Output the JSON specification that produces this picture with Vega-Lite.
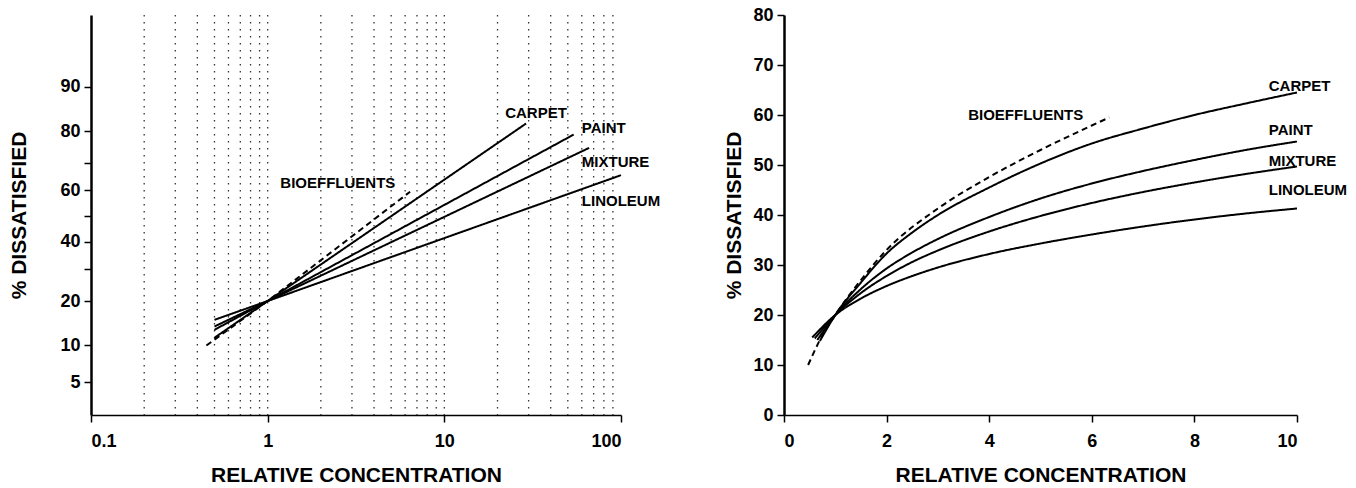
{
  "$schema": "https://vega.github.io/schema/vega-lite/v6.json",
  "background": "white",
  "padding": {"left": 8, "top": 6, "right": 0, "bottom": 0},
  "config": {
    "view": {"stroke": null},
    "font": "Liberation Sans",
    "axis": {
      "domainColor": "black", "tickColor": "black", "labelColor": "black", "titleColor": "black",
      "labelFont": "Liberation Sans", "labelFontWeight": "bold", "labelFontSize": 18,
      "titleFont": "Liberation Sans", "titleFontSize": 21, "titleFontWeight": "bold",
      "grid": false, "tickWidth": 1.5, "tickSize": 7
    },
    "axisX": {"domainWidth": 1.5, "labelPadding": 10, "titlePadding": 14},
    "axisY": {"domainWidth": 2.5, "labelPadding": 4}
  },
  "datasets": {
    "grid": [
      {"conc": 0.2}, {"conc": 0.3}, {"conc": 0.4}, {"conc": 0.5}, {"conc": 0.6}, {"conc": 0.7}, {"conc": 0.8}, {"conc": 0.9}, {"conc": 1},
      {"conc": 2}, {"conc": 3}, {"conc": 4}, {"conc": 5}, {"conc": 6}, {"conc": 7}, {"conc": 8}, {"conc": 9}, {"conc": 10},
      {"conc": 20}, {"conc": 30}, {"conc": 40}, {"conc": 50}, {"conc": 60}, {"conc": 70}, {"conc": 80}, {"conc": 90}
    ],
    "leftLines": [
      {"series": "CARPET", "conc": 0.5, "pct": 11.4}, {"series": "CARPET", "conc": 1, "pct": 20}, {"series": "CARPET", "conc": 29, "pct": 82},
      {"series": "PAINT", "conc": 0.5, "pct": 13}, {"series": "PAINT", "conc": 1, "pct": 20}, {"series": "PAINT", "conc": 54, "pct": 79},
      {"series": "MIXTURE", "conc": 0.5, "pct": 13.7}, {"series": "MIXTURE", "conc": 1, "pct": 20}, {"series": "MIXTURE", "conc": 66, "pct": 75},
      {"series": "LINOLEUM", "conc": 0.5, "pct": 15.2}, {"series": "LINOLEUM", "conc": 1, "pct": 20}, {"series": "LINOLEUM", "conc": 100, "pct": 65.7},
      {"series": "BIOEFFLUENTS", "conc": 0.45, "pct": 10}, {"series": "BIOEFFLUENTS", "conc": 1, "pct": 20}, {"series": "BIOEFFLUENTS", "conc": 6.4, "pct": 59.5}
    ],
    "leftLabels": [
      {"label": "CARPET", "conc": 22.1, "pct": 84.5},
      {"label": "PAINT", "conc": 60, "pct": 80.7},
      {"label": "MIXTURE", "conc": 60, "pct": 70.3},
      {"label": "LINOLEUM", "conc": 60, "pct": 55.9},
      {"label": "BIOEFFLUENTS", "conc": 1.18, "pct": 62.8}
    ],
    "rightLines": [
      {"series": "CARPET", "conc": 0.7, "pct": 14.8}, {"series": "CARPET", "conc": 1, "pct": 20}, {"series": "CARPET", "conc": 1.5, "pct": 26.5}, {"series": "CARPET", "conc": 2, "pct": 32.3}, {"series": "CARPET", "conc": 2.5, "pct": 36.5}, {"series": "CARPET", "conc": 3, "pct": 40}, {"series": "CARPET", "conc": 4, "pct": 45.5}, {"series": "CARPET", "conc": 5, "pct": 50.3}, {"series": "CARPET", "conc": 6, "pct": 54.3}, {"series": "CARPET", "conc": 7, "pct": 57.3}, {"series": "CARPET", "conc": 8, "pct": 60}, {"series": "CARPET", "conc": 9, "pct": 62.3}, {"series": "CARPET", "conc": 10, "pct": 64.5},
      {"series": "PAINT", "conc": 0.65, "pct": 15}, {"series": "PAINT", "conc": 1, "pct": 20}, {"series": "PAINT", "conc": 1.5, "pct": 25.2}, {"series": "PAINT", "conc": 2, "pct": 29.3}, {"series": "PAINT", "conc": 2.5, "pct": 32.5}, {"series": "PAINT", "conc": 3, "pct": 35.2}, {"series": "PAINT", "conc": 4, "pct": 39.6}, {"series": "PAINT", "conc": 5, "pct": 43.3}, {"series": "PAINT", "conc": 6, "pct": 46.3}, {"series": "PAINT", "conc": 7, "pct": 48.8}, {"series": "PAINT", "conc": 8, "pct": 51}, {"series": "PAINT", "conc": 9, "pct": 53}, {"series": "PAINT", "conc": 10, "pct": 54.7},
      {"series": "MIXTURE", "conc": 0.6, "pct": 15.3}, {"series": "MIXTURE", "conc": 1, "pct": 20}, {"series": "MIXTURE", "conc": 1.5, "pct": 24.4}, {"series": "MIXTURE", "conc": 2, "pct": 27.8}, {"series": "MIXTURE", "conc": 2.5, "pct": 30.6}, {"series": "MIXTURE", "conc": 3, "pct": 32.9}, {"series": "MIXTURE", "conc": 4, "pct": 36.7}, {"series": "MIXTURE", "conc": 5, "pct": 39.8}, {"series": "MIXTURE", "conc": 6, "pct": 42.4}, {"series": "MIXTURE", "conc": 7, "pct": 44.6}, {"series": "MIXTURE", "conc": 8, "pct": 46.5}, {"series": "MIXTURE", "conc": 9, "pct": 48.2}, {"series": "MIXTURE", "conc": 10, "pct": 49.7},
      {"series": "LINOLEUM", "conc": 0.55, "pct": 15.5}, {"series": "LINOLEUM", "conc": 1, "pct": 20}, {"series": "LINOLEUM", "conc": 1.5, "pct": 23.3}, {"series": "LINOLEUM", "conc": 2, "pct": 25.8}, {"series": "LINOLEUM", "conc": 2.5, "pct": 27.8}, {"series": "LINOLEUM", "conc": 3, "pct": 29.5}, {"series": "LINOLEUM", "conc": 4, "pct": 32.2}, {"series": "LINOLEUM", "conc": 5, "pct": 34.3}, {"series": "LINOLEUM", "conc": 6, "pct": 36.1}, {"series": "LINOLEUM", "conc": 7, "pct": 37.7}, {"series": "LINOLEUM", "conc": 8, "pct": 39.1}, {"series": "LINOLEUM", "conc": 9, "pct": 40.3}, {"series": "LINOLEUM", "conc": 10, "pct": 41.3},
      {"series": "BIOEFFLUENTS", "conc": 0.47, "pct": 10}, {"series": "BIOEFFLUENTS", "conc": 0.7, "pct": 15}, {"series": "BIOEFFLUENTS", "conc": 1, "pct": 20}, {"series": "BIOEFFLUENTS", "conc": 1.5, "pct": 27}, {"series": "BIOEFFLUENTS", "conc": 2, "pct": 33}, {"series": "BIOEFFLUENTS", "conc": 3, "pct": 41.3}, {"series": "BIOEFFLUENTS", "conc": 4, "pct": 47.6}, {"series": "BIOEFFLUENTS", "conc": 5, "pct": 53}, {"series": "BIOEFFLUENTS", "conc": 6, "pct": 57.9}, {"series": "BIOEFFLUENTS", "conc": 6.34, "pct": 59.5}
    ],
    "rightLabels": [
      {"label": "CARPET", "conc": 9.45, "pct": 65.9},
      {"label": "PAINT", "conc": 9.45, "pct": 57},
      {"label": "MIXTURE", "conc": 9.45, "pct": 50.8},
      {"label": "LINOLEUM", "conc": 9.45, "pct": 45},
      {"label": "BIOEFFLUENTS", "conc": 3.59, "pct": 60.1}
    ]
  },
  "bounds": "flush",
  "spacing": 163,
  "hconcat": [
    {
      "width": 530,
      "height": 400,
      "layer": [
        {
          "data": {"name": "grid"},
          "mark": {"type": "rule", "strokeDash": [1.5, 5.5], "strokeWidth": 1.3, "color": "#333"},
          "encoding": {
            "x": {
              "field": "conc", "type": "quantitative",
              "scale": {"type": "log", "domain": [0.1, 100]},
              "axis": {"values": [0.1, 1, 10, 100], "format": "~g", "title": "RELATIVE CONCENTRATION"}
            }
          }
        },
        {
          "data": {"name": "leftLines"},
          "transform": [{"calculate": "quantileNormal(datum.pct / 100)", "as": "z"}],
          "mark": {"type": "line", "color": "black", "strokeWidth": 2},
          "encoding": {
            "x": {"field": "conc", "type": "quantitative"},
            "y": {
              "field": "z", "type": "quantitative",
              "scale": {"domain": [-1.97, 1.99], "nice": false, "zero": false},
              "axis": {
                "title": "% DISSATISFIED",
                "titlePadding": 30,
                "values": [-1.6449, -1.2816, -0.8416, -0.5244, -0.2533, 0, 0.2533, 0.5244, 0.8416, 1.2816],
                "labelExpr": "indexof([5,10,20,40,60,80,90], round(cumulativeNormal(datum.value)*100)) >= 0 ? '' + round(cumulativeNormal(datum.value)*100) : ''"
              }
            },
            "detail": {"field": "series"},
            "order": {"field": "conc"},
            "strokeDash": {
              "field": "series", "type": "nominal",
              "scale": {"domain": ["CARPET", "PAINT", "MIXTURE", "LINOLEUM", "BIOEFFLUENTS"], "range": [[1, 0], [1, 0], [1, 0], [1, 0], [6, 4]]},
              "legend": null
            }
          }
        },
        {
          "data": {"name": "leftLabels"},
          "transform": [{"calculate": "quantileNormal(datum.pct / 100)", "as": "z"}],
          "mark": {"type": "text", "align": "left", "baseline": "middle", "font": "Liberation Sans", "fontWeight": "bold", "fontSize": 15, "color": "black"},
          "encoding": {
            "x": {"field": "conc", "type": "quantitative"},
            "y": {"field": "z", "type": "quantitative"},
            "text": {"field": "label"}
          }
        }
      ]
    },
    {
      "width": 513,
      "height": 400,
      "layer": [
        {
          "data": {"name": "rightLines"},
          "mark": {"type": "line", "color": "black", "strokeWidth": 2, "interpolate": "monotone"},
          "encoding": {
            "x": {
              "field": "conc", "type": "quantitative",
              "scale": {"domain": [0, 10], "nice": false},
              "axis": {"values": [0, 2, 4, 6, 8, 10], "title": "RELATIVE CONCENTRATION"}
            },
            "y": {
              "field": "pct", "type": "quantitative",
              "scale": {"domain": [0, 80], "nice": false},
              "axis": {"values": [0, 10, 20, 30, 40, 50, 60, 70, 80], "title": "% DISSATISFIED", "titlePadding": 8}
            },
            "detail": {"field": "series"},
            "order": {"field": "conc"},
            "strokeDash": {
              "field": "series", "type": "nominal",
              "scale": {"domain": ["CARPET", "PAINT", "MIXTURE", "LINOLEUM", "BIOEFFLUENTS"], "range": [[1, 0], [1, 0], [1, 0], [1, 0], [6, 4]]},
              "legend": null
            }
          }
        },
        {
          "data": {"name": "rightLabels"},
          "mark": {"type": "text", "align": "left", "baseline": "middle", "font": "Liberation Sans", "fontWeight": "bold", "fontSize": 15, "color": "black"},
          "encoding": {
            "x": {"field": "conc", "type": "quantitative"},
            "y": {"field": "pct", "type": "quantitative"},
            "text": {"field": "label"}
          }
        }
      ]
    }
  ]
}
